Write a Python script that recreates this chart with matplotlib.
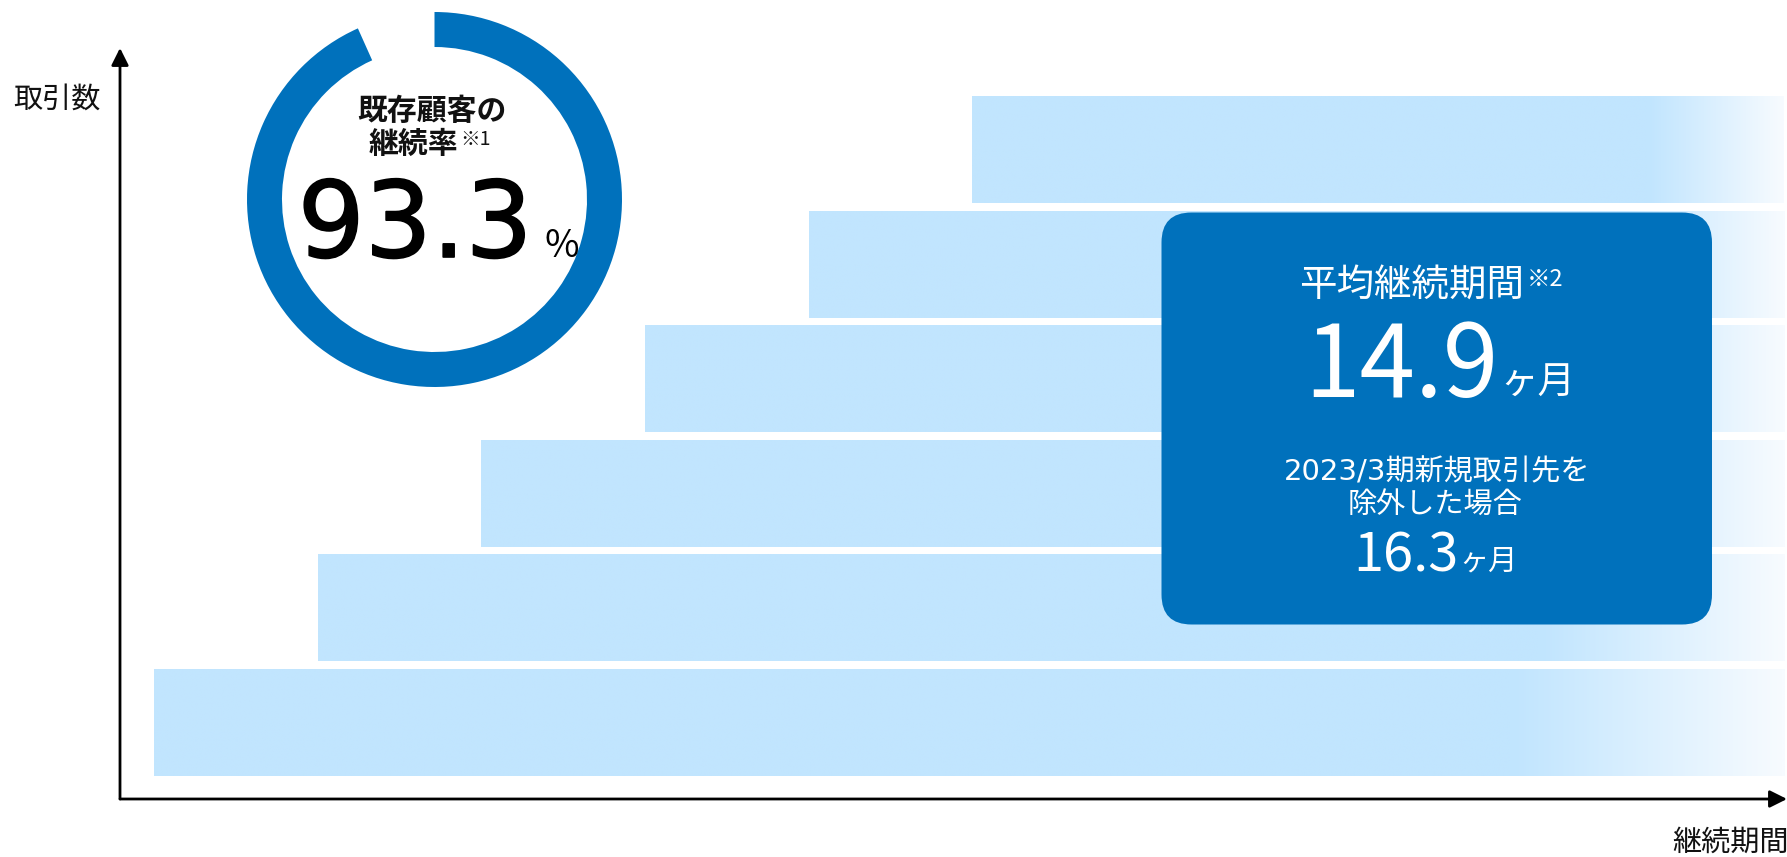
import matplotlib.pyplot as plt
import numpy as np
from matplotlib.patches import FancyBboxPatch
import matplotlib.patheffects as pe

plt.rcParams['font.family'] = ['Noto Sans CJK JP', 'DejaVu Sans']

# データ（下の段から順に、各取引先グループの開始時期）
cohort_start = [0, 1, 2, 3, 4, 5]
cohort_end = 9.96
retention_rate = 93.3          # 既存顧客の継続率 (%)
avg_months = 14.9              # 平均継続期間
avg_months_excl = 16.3         # 2023/3期新規取引先を除外した場合

y_label = '取引数'
x_label = '継続期間'
ring_title = ['既存顧客の', '継続率']
box_title = '平均継続期間'
box_note = ['2023/3期新規取引先を', '除外した場合']

blue = '#0071BC'
bar_col = np.array([193, 229, 254]) / 255
fade_col = np.array([247, 251, 255]) / 255

W, H = 1787, 857
fig = plt.figure(figsize=(W / 100, H / 100), dpi=100)

# メインの軸（矢印付き）
ax = fig.add_axes([120 / W, (H - 799) / H, (W - 120) / W, (799 - 48) / H])
ax.axis('off')

# 帯（右端でグラデーション）
t = np.linspace(0, 1, 300)
for k, s in enumerate(cohort_start):
    f = np.clip((t - 0.835) / 0.165, 0, 1)[:, None]
    grad = (bar_col * (1 - f) + fade_col * f)[None, :, :]
    ax.imshow(grad, extent=(s, cohort_end, k - 0.463, k + 0.463),
              aspect='auto', interpolation='bilinear', zorder=1)

ax.set_xlim(-0.2077, 9.9756)
ax.set_ylim(-0.664, 5.895)

arrow = dict(arrowstyle='-|>', color='black', lw=2, mutation_scale=26,
             shrinkA=0, shrinkB=0)
ax.annotate('', xy=(0, 1), xytext=(0, 0), xycoords='axes fraction',
            arrowprops=arrow, annotation_clip=False)
ax.annotate('', xy=(1, 0), xytext=(0, 0), xycoords='axes fraction',
            arrowprops=arrow, annotation_clip=False)

# 継続率のリング
ax_ring = fig.add_axes([247 / W, (H - 387) / H, 375 / W, 375 / H])
ax_ring.pie([retention_rate, 100 - retention_rate], colors=[blue, 'none'],
            startangle=90, counterclock=False, radius=1,
            wedgeprops=dict(width=35 / 187.5, edgecolor='none'))
ax_ring.set_xlim(-1, 1)
ax_ring.set_ylim(-1, 1)
ax_ring.axis('off')

# テキストとボックス用の重ね合わせ軸（ピクセル座標）
ov = fig.add_axes([0, 0, 1, 1])
ov.set_xlim(0, W)
ov.set_ylim(H, 0)
ov.axis('off')

ov.text(57, 100, y_label, fontsize=21, ha='center', va='center', color='#111111')
ov.text(1672, 843, x_label, fontsize=21, ha='left', va='center', color='#111111')

ov.text(432, 111, ring_title[0], fontsize=21.5, fontweight='bold',
        ha='center', va='center', color='#111111')
ov.text(413, 144, ring_title[1], fontsize=21.5, fontweight='bold',
        ha='center', va='center', color='#111111')
ov.text(460, 139, '※1', fontsize=14, ha='left', va='center', color='#111111')
ov.text(415, 257, f'{retention_rate}', fontsize=76, family='DejaVu Sans',
        ha='center', va='baseline', color='black',
        path_effects=[pe.withStroke(linewidth=1.2, foreground='black')])
ov.text(544, 257, '%', fontsize=27, ha='left', va='baseline', color='black')

box = FancyBboxPatch((1161.5, 212.5), 550.5, 412,
                     boxstyle='round,pad=0,rounding_size=30',
                     fc=blue, ec='none', zorder=2)
ov.add_patch(box)

ov.text(1412, 285, box_title, fontsize=27, ha='center', va='center',
        color='white', zorder=3)
ov.text(1527, 280, '※2', fontsize=17, ha='left', va='center',
        color='white', zorder=3)
ov.text(1401, 397, f'{avg_months}', fontsize=72, ha='center', va='baseline',
        color='white', zorder=3)
ov.text(1500, 394, 'ヶ月', fontsize=27, ha='left', va='baseline',
        color='white', zorder=3)
ov.text(1437, 472, box_note[0], fontsize=21, ha='center', va='center',
        family=['DejaVu Sans', 'Noto Sans CJK JP'], color='white', zorder=3)
ov.text(1435, 506, box_note[1], fontsize=21, ha='center', va='center',
        color='white', zorder=3)
ov.text(1406, 572, f'{avg_months_excl}', fontsize=39, ha='center', va='baseline',
        color='white', zorder=3)
ov.text(1459, 570, 'ヶ月', fontsize=21, ha='left', va='baseline',
        color='white', zorder=3)

plt.savefig('out.png', dpi=100)
